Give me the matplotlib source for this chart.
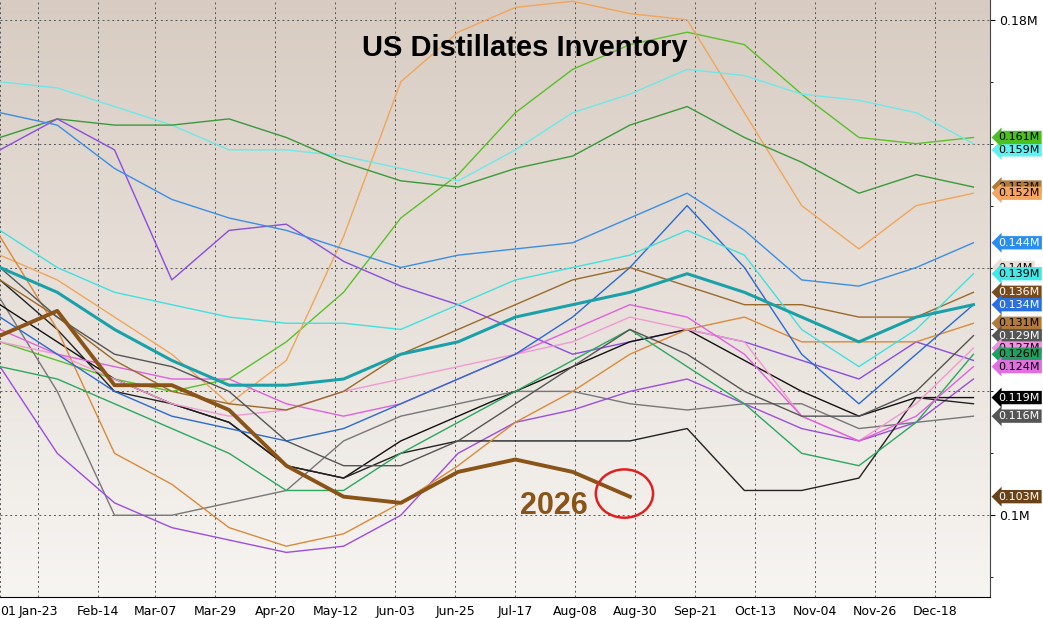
import matplotlib
matplotlib.use("Agg")
import matplotlib.pyplot as plt
import numpy as np
from matplotlib.ticker import FixedLocator, MultipleLocator

days = [8,29,50,71,92,113,134,155,176,197,218,239,260,281,302,323,344,365]
tick_days = [8,22,44,65,87,109,131,153,175,197,219,241,263,285,307,329,351]
tick_labels = ["01","Jan-23","Feb-14","Mar-07","Mar-29","Apr-20","May-12","Jun-03","Jun-25",
               "Jul-17","Aug-08","Aug-30","Sep-21","Oct-13","Nov-04","Nov-26","Dec-18"]

y2026 = [0.129,0.133,0.121,0.121,0.117,0.108,0.103,0.102,0.107,0.109,0.107,0.103]
avg5 = [0.140,0.136,0.130,0.125,0.121,0.121,0.122,0.126,0.128,0.132,0.134,0.136,0.139,0.136,0.132,0.128,0.132,0.134]

series = [
 ("#5bbf2a",[0.128,0.125,0.122,0.120,0.122,0.128,0.136,0.148,0.155,0.165,0.172,0.176,0.178,0.176,0.168,0.161,0.160,0.161]),
 ("#f0a55a",[0.142,0.138,0.132,0.126,0.118,0.125,0.145,0.170,0.178,0.182,0.183,0.181,0.180,0.165,0.150,0.143,0.150,0.152]),
 ("#6de8e8",[0.170,0.169,0.166,0.163,0.159,0.159,0.158,0.156,0.154,0.159,0.165,0.168,0.172,0.171,0.168,0.167,0.165,0.160]),
 ("#3a9a3a",[0.161,0.164,0.163,0.163,0.164,0.161,0.157,0.154,0.153,0.156,0.158,0.163,0.166,0.161,0.157,0.152,0.155,0.153]),
 ("#8a4de0",[0.159,0.164,0.159,0.138,0.146,0.147,0.141,0.137,0.134,0.130,0.126,0.128,0.130,0.128,0.125,0.122,0.128,0.125]),
 ("#3a8ee6",[0.165,0.163,0.156,0.151,0.148,0.146,0.143,0.140,0.142,0.143,0.144,0.148,0.152,0.146,0.138,0.137,0.140,0.144]),
 ("#777777",[0.135,0.120,0.100,0.100,0.102,0.104,0.112,0.116,0.118,0.120,0.120,0.118,0.117,0.118,0.118,0.114,0.115,0.116]),
 ("#9b4de0",[0.124,0.110,0.102,0.098,0.096,0.094,0.095,0.100,0.110,0.115,0.117,0.120,0.122,0.118,0.114,0.112,0.115,0.122]),
 ("#111111",[0.134,0.128,0.122,0.118,0.115,0.108,0.106,0.112,0.116,0.120,0.124,0.128,0.130,0.125,0.120,0.116,0.119,0.119]),
 ("#222222",[0.138,0.130,0.120,0.118,0.115,0.108,0.106,0.110,0.112,0.112,0.112,0.112,0.114,0.104,0.104,0.106,0.119,0.118]),
 ("#d98a3a",[0.145,0.130,0.110,0.105,0.098,0.095,0.097,0.102,0.108,0.115,0.120,0.126,0.130,0.132,0.128,0.128,0.128,0.131]),
 ("#f09ad0",[0.128,0.126,0.122,0.118,0.116,0.117,0.120,0.122,0.124,0.126,0.128,0.132,0.130,0.128,0.116,0.112,0.118,0.127]),
 ("#2aa860",[0.124,0.122,0.118,0.114,0.110,0.104,0.104,0.110,0.115,0.120,0.125,0.130,0.124,0.118,0.110,0.108,0.115,0.126]),
 ("#e060e0",[0.130,0.126,0.124,0.122,0.122,0.118,0.116,0.118,0.122,0.126,0.130,0.134,0.132,0.126,0.116,0.112,0.116,0.124]),
 ("#2a6ad0",[0.132,0.126,0.120,0.116,0.114,0.112,0.114,0.118,0.122,0.126,0.132,0.140,0.150,0.140,0.126,0.118,0.126,0.134]),
 ("#9a6a2a",[0.138,0.132,0.125,0.120,0.118,0.117,0.120,0.126,0.130,0.134,0.138,0.140,0.137,0.134,0.134,0.132,0.132,0.136]),
 ("#40e0e0",[0.146,0.140,0.136,0.134,0.132,0.131,0.131,0.130,0.134,0.138,0.140,0.142,0.146,0.142,0.130,0.124,0.130,0.139]),
 ("#555555",[0.140,0.132,0.126,0.124,0.120,0.112,0.108,0.108,0.112,0.118,0.124,0.130,0.126,0.120,0.116,0.116,0.120,0.129]),
]

labels = [
 (0.159,"0.159M","#60f0f0","black"),(0.161,"0.161M","#4cc020","black"),
 (0.153,"0.153M","#b07a3a","black"),(0.152,"0.152M","#f5a560","black"),
 (0.144,"0.144M","#2a8ef0","white"),(0.140,"0.14M","#e8e0d8","black"),
 (0.139,"0.139M","#40e8e8","black"),(0.136,"0.136M","#7a4a1a","white"),
 (0.134,"0.134M","#2a70e0","white"),(0.131,"0.131M","#b07a3a","black"),
 (0.129,"0.129M","#555555","white"),(0.127,"0.127M","#f090e0","black"),
 (0.126,"0.126M","#20a060","black"),(0.124,"0.124M","#e070e0","black"),
 (0.119,"0.119M","#000000","white"),(0.116,"0.116M","#555555","white"),
 (0.103,"0.103M","#6a4218","white"),
]

fig = plt.figure(figsize=(10.43,6.18), dpi=100)
ax = fig.add_axes([0.0, 0.034, 0.949, 0.966])
xlim = (8, 371); ylim = (0.0868, 0.1832)
grad = np.linspace(1, 0, 256).reshape(-1, 1)
from matplotlib.colors import LinearSegmentedColormap
cmap = LinearSegmentedColormap.from_list("bg", ["#f7f5f2", "#d8ccc2"])
ax.imshow(grad, aspect="auto", cmap=cmap, extent=[xlim[0], xlim[1], ylim[0], ylim[1]], zorder=0)

for c, v in series:
    ax.plot(days, v, color=c, lw=1.0, zorder=2)
ax.plot(days, avg5, color="#1aa0a8", lw=2.2, zorder=3)
ax.plot(days[:len(y2026)], y2026, color="#8a5418", lw=2.8, zorder=4)

ax.set_xlim(*xlim); ax.set_ylim(*ylim)
ax.xaxis.set_major_locator(FixedLocator(tick_days))
ax.set_xticklabels(tick_labels, fontsize=9)
ax.get_xticklabels()[0].set_horizontalalignment("left")
ax.yaxis.tick_right()
ax.yaxis.set_minor_locator(MultipleLocator(0.01))
ax.set_yticks([0.10, 0.14, 0.18])
ax.set_yticklabels(["0.1M", "", "0.18M"], fontsize=9)
ax.grid(True, axis="both", which="major", ls=(0,(2,3)), color="#555555", lw=0.7)
for yv in [0.12, 0.16]:
    ax.axhline(yv, ls=(0,(2,3)), color="#555555", lw=0.7, zorder=1)
for s in ["top", "left"]:
    ax.spines[s].set_visible(False)
ax.spines["right"].set_color("#444444")
ax.tick_params(axis="x", length=0, pad=6)

for v, t, fc, tc in labels:
    ax.annotate(t, xy=(1.0, v), xycoords=("axes fraction", "data"), xytext=(1.009, v),
                textcoords=("axes fraction", "data"), fontsize=8, color=tc, va="center", ha="left",
                bbox=dict(boxstyle="larrow,pad=0.15", fc=fc, ec="none"), annotation_clip=False, zorder=10)

ax.text(0.53, 0.92, "US Distillates Inventory", transform=ax.transAxes, ha="center", va="center",
        fontsize=21, fontweight="bold", family="Liberation Sans")
ax.text(211, 0.1015, "2026", color="#8a5418", fontsize=22, fontweight="bold", ha="center", va="center",
        family="Liberation Sans", zorder=6)
from matplotlib.patches import Ellipse
ax.add_patch(Ellipse((237, 0.1035), 21, 0.0078, fill=False, ec="#e02020", lw=1.8, zorder=6))

fig.savefig("out.png", dpi=100)
